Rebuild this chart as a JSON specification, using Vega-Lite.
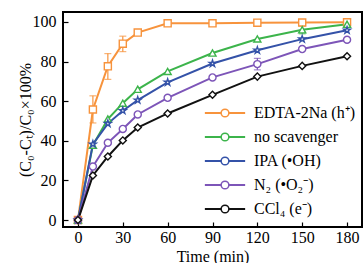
{
  "$schema": "https://vega.github.io/schema/vega-lite/v6.json",
  "width": 299,
  "height": 215,
  "autosize": {"type": "none"},
  "padding": {"left": 63, "top": 12, "right": 1, "bottom": 36},
  "background": "white",
  "config": {
    "font": "Liberation Serif",
    "view": {"stroke": "black", "strokeWidth": 2},
    "axis": {"grid": false, "domain": false, "tickColor": "black", "tickSize": -5, "tickWidth": 1.2, "labelFontSize": 16, "labelColor": "black", "titleFontSize": 16, "titleFontWeight": "normal", "titleColor": "black"}
  },
  "resolve": {"scale": {"color": "independent"}, "legend": {"color": "independent"}},
  "data": {"values": [
    {"t": 0, "v": 0, "s": "EDTA-2Na (h⁺)"}, {"t": 10, "v": 55.8, "s": "EDTA-2Na (h⁺)"}, {"t": 20, "v": 77.6, "s": "EDTA-2Na (h⁺)"}, {"t": 30, "v": 89, "s": "EDTA-2Na (h⁺)"}, {"t": 40, "v": 94.6, "s": "EDTA-2Na (h⁺)"}, {"t": 60, "v": 99.3, "s": "EDTA-2Na (h⁺)"}, {"t": 90, "v": 99.3, "s": "EDTA-2Na (h⁺)"}, {"t": 120, "v": 99.6, "s": "EDTA-2Na (h⁺)"}, {"t": 150, "v": 99.7, "s": "EDTA-2Na (h⁺)"}, {"t": 180, "v": 99.8, "s": "EDTA-2Na (h⁺)"},
    {"t": 0, "v": 0, "s": "no scavenger"}, {"t": 10, "v": 37.8, "s": "no scavenger"}, {"t": 20, "v": 51, "s": "no scavenger"}, {"t": 30, "v": 59, "s": "no scavenger"}, {"t": 40, "v": 66, "s": "no scavenger"}, {"t": 60, "v": 75, "s": "no scavenger"}, {"t": 90, "v": 84.3, "s": "no scavenger"}, {"t": 120, "v": 91.4, "s": "no scavenger"}, {"t": 150, "v": 96, "s": "no scavenger"}, {"t": 180, "v": 98.8, "s": "no scavenger"},
    {"t": 0, "v": 0, "s": "IPA (•OH)"}, {"t": 10, "v": 38.3, "s": "IPA (•OH)"}, {"t": 20, "v": 48.7, "s": "IPA (•OH)"}, {"t": 30, "v": 55.2, "s": "IPA (•OH)"}, {"t": 40, "v": 60.5, "s": "IPA (•OH)"}, {"t": 60, "v": 69.5, "s": "IPA (•OH)"}, {"t": 90, "v": 79, "s": "IPA (•OH)"}, {"t": 120, "v": 85.7, "s": "IPA (•OH)"}, {"t": 150, "v": 91.3, "s": "IPA (•OH)"}, {"t": 180, "v": 95.8, "s": "IPA (•OH)"},
    {"t": 0, "v": 0, "s": "N₂ (•O₂⁻)"}, {"t": 10, "v": 27, "s": "N₂ (•O₂⁻)"}, {"t": 20, "v": 39, "s": "N₂ (•O₂⁻)"}, {"t": 30, "v": 46, "s": "N₂ (•O₂⁻)"}, {"t": 40, "v": 53.3, "s": "N₂ (•O₂⁻)"}, {"t": 60, "v": 61.7, "s": "N₂ (•O₂⁻)"}, {"t": 90, "v": 72, "s": "N₂ (•O₂⁻)"}, {"t": 120, "v": 78.7, "s": "N₂ (•O₂⁻)"}, {"t": 150, "v": 86.3, "s": "N₂ (•O₂⁻)"}, {"t": 180, "v": 91, "s": "N₂ (•O₂⁻)"},
    {"t": 0, "v": 0, "s": "CCl₄ (e⁻)"}, {"t": 10, "v": 22.5, "s": "CCl₄ (e⁻)"}, {"t": 20, "v": 32.1, "s": "CCl₄ (e⁻)"}, {"t": 30, "v": 40.2, "s": "CCl₄ (e⁻)"}, {"t": 40, "v": 46.7, "s": "CCl₄ (e⁻)"}, {"t": 60, "v": 53.8, "s": "CCl₄ (e⁻)"}, {"t": 90, "v": 63.2, "s": "CCl₄ (e⁻)"}, {"t": 120, "v": 72.4, "s": "CCl₄ (e⁻)"}, {"t": 150, "v": 77.8, "s": "CCl₄ (e⁻)"}, {"t": 180, "v": 82.7, "s": "CCl₄ (e⁻)"}
  ]},
  "layer": [
    {
      "mark": {"type": "line", "strokeWidth": 2},
      "encoding": {
        "x": {"field": "t", "type": "quantitative", "scale": {"domain": [-10, 190], "nice": false},
          "axis": {"values": [0, 15, 30, 45, 60, 75, 90, 105, 120, 135, 150, 165, 180], "labelExpr": "datum.value % 30 === 0 ? datum.label : ''", "title": "Time (min)", "labelPadding": 7, "titlePadding": 3}},
        "y": {"field": "v", "type": "quantitative", "scale": {"domain": [-3.5, 105], "nice": false},
          "axis": {"values": [0, 10, 20, 30, 40, 50, 60, 70, 80, 90, 100], "labelExpr": "datum.value % 20 === 0 ? datum.label : ''", "title": "(C₀-Cₜ)/C₀×100%", "labelPadding": 12, "titlePadding": -1}},
        "color": {"field": "s", "type": "nominal",
          "scale": {"domain": ["EDTA-2Na (h⁺)", "no scavenger", "IPA (•OH)", "N₂ (•O₂⁻)", "CCl₄ (e⁻)"], "range": ["#f7933c", "#3cb44b", "#3452a8", "#7d55b8", "#111111"]},
          "legend": {"orient": "none", "legendX": 154, "legendY": 93, "title": null, "labelFontSize": 16, "labelColor": "black", "labelOpacity": 0, "symbolType": "M-5.2,0L5.2,0", "symbolSize": 60, "symbolStrokeWidth": 2, "rowPadding": 8, "padding": 0, "labelOffset": 21, "labelLimit": 300}}
      }
    },
    {
      "data": {"values": [
        {"t": 10, "lo": 49, "hi": 62.7, "s": "EDTA-2Na (h⁺)"},
        {"t": 20, "lo": 71, "hi": 84, "s": "EDTA-2Na (h⁺)"},
        {"t": 30, "lo": 85, "hi": 92.8, "s": "EDTA-2Na (h⁺)"},
        {"t": 120, "lo": 75.8, "hi": 81.6, "s": "N₂ (•O₂⁻)"},
        {"t": 150, "lo": 94, "hi": 98, "s": "no scavenger"}
      ]},
      "mark": {"type": "errorbar", "ticks": {"size": 7}, "thickness": 1.2},
      "encoding": {
        "x": {"field": "t", "type": "quantitative"},
        "y": {"field": "lo", "type": "quantitative", "title": "(C₀-Cₜ)/C₀×100%"},
        "y2": {"field": "hi"},
        "color": {"field": "s", "type": "nominal", "legend": null,
          "scale": {"domain": ["EDTA-2Na (h⁺)", "no scavenger", "IPA (•OH)", "N₂ (•O₂⁻)", "CCl₄ (e⁻)"], "range": ["#f7933c", "#3cb44b", "#3452a8", "#7d55b8", "#111111"]}}
      }
    },
    {
      "mark": {"type": "point", "filled": false, "fill": "white", "fillOpacity": 1, "opacity": 1, "size": 50, "strokeWidth": 1.4},
      "encoding": {
        "x": {"field": "t", "type": "quantitative"},
        "y": {"field": "v", "type": "quantitative"},
        "shape": {"field": "s", "type": "nominal", "legend": null,
          "scale": {"domain": ["EDTA-2Na (h⁺)", "no scavenger", "IPA (•OH)", "N₂ (•O₂⁻)", "CCl₄ (e⁻)"], "range": ["square", "triangle-up", "M0,-1L0.224,-0.309L0.951,-0.309L0.363,0.118L0.588,0.809L0,0.382L-0.588,0.809L-0.363,0.118L-0.951,-0.309L-0.224,-0.309Z", "circle", "diamond"]}},
        "color": {"field": "s", "type": "nominal",
          "scale": {"domain": ["EDTA-2Na (h⁺)", "no scavenger", "IPA (•OH)", "N₂ (•O₂⁻)", "CCl₄ (e⁻)"], "range": ["#f7933c", "#3cb44b", "#3452a8", "#7d55b8", "#111111"]},
          "legend": {"orient": "none", "legendX": 154, "legendY": 93, "title": null, "labelFontSize": 16, "labelColor": "black", "symbolSize": 60, "symbolStrokeWidth": 1.5, "symbolFillColor": "white", "rowPadding": 8, "padding": 0, "labelOffset": 21, "labelLimit": 300}}
      }
    }
  ]
}
